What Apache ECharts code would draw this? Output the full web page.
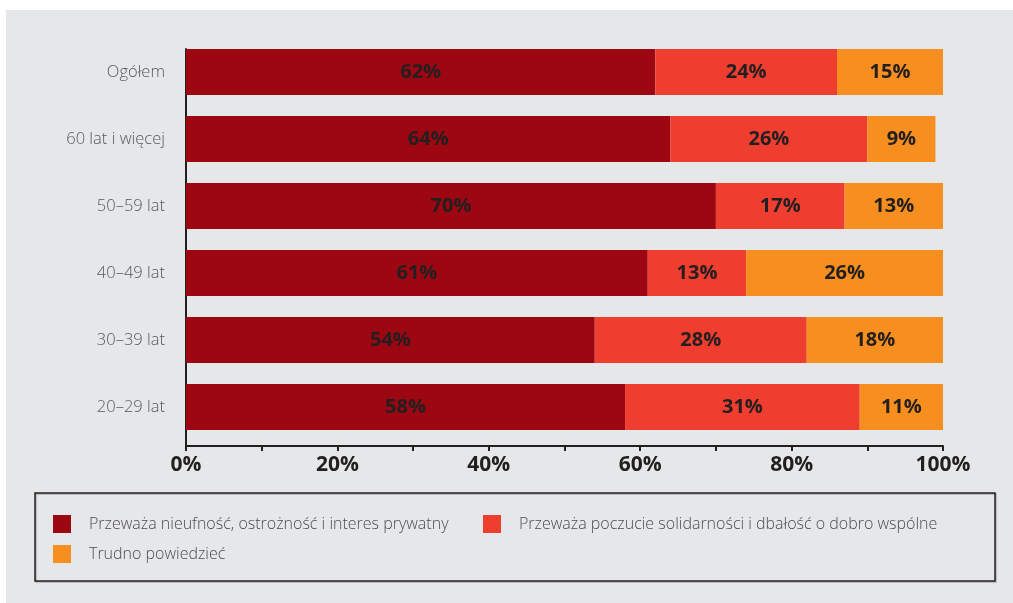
<!DOCTYPE html>
<html>
<head>
<meta charset="utf-8">
<script src="https://cdn.jsdelivr.net/npm/echarts@6/dist/echarts.min.js"></script>
<style>
  html, body { margin: 0; padding: 0; background: #ffffff; }
  #panel { position: absolute; left: 6px; top: 10px; right: 0; bottom: 0; background: #e6e7e8; }
  #chart { position: absolute; left: 0; top: 0; width: 1013px; height: 603px; }
</style>
</head>
<body>
<div id="panel"></div>
<div id="chart"></div>
<script>
// Age groups, top to bottom
const categories = ['Ogółem', '60 lat i więcej', '50–59 lat', '40–49 lat', '30–39 lat', '20–29 lat'];

// Share of answers (%) per age group
const nieufnosc   = [62, 64, 70, 61, 54, 58];
const solidarnosc = [24, 26, 17, 13, 28, 31];
const trudno      = [15,  9, 13, 26, 18, 11];

const seriesNames = [
  'Przeważa nieufność, ostrożność i interes prywatny',
  'Przeważa poczucie solidarności i dbałość o dobro wspólne',
  'Trudno powiedzieć'
];
const seriesColors = ['#9c0711', '#ef3e30', '#f68f1f'];

// Percentage axis ticks
const xMin = 0, xMax = 100, xStep = 10, labelStep = 20;

const FONT = "'Open Sans', 'Noto Sans', sans-serif";
const DARK = '#231f20';

const chart = echarts.init(document.getElementById('chart'), null, { renderer: 'canvas' });

function barSeries(name, values, color) {
  return {
    name: name,
    type: 'bar',
    stack: 'total',
    xAxisIndex: 0,
    yAxisIndex: 0,
    barWidth: 46,
    clip: true,
    data: values,
    itemStyle: { color: color },
    label: {
      show: true,
      position: 'inside',
      formatter: '{c}%',
      color: DARK,
      fontFamily: FONT,
      fontWeight: 'bold',
      fontSize: 20
    },
    emphasis: { disabled: true }
  };
}

function legendAt(left, top, name) {
  return {
    left: left,
    top: top,
    padding: 0,
    itemWidth: 18,
    itemHeight: 18,
    icon: 'rect',
    selectedMode: false,
    data: [name],
    textStyle: {
      color: '#4d4d4f',
      fontFamily: FONT,
      fontWeight: 300,
      fontSize: 16,
      padding: [0, 0, 0, 13]
    }
  };
}

chart.setOption({
  animation: false,
  grid: [
    // bars
    { left: 186, right: 70, top: 38.5, bottom: 162.5 },
    // axis frame
    { left: 186, right: 70, top: 49, bottom: 157 }
  ],
  xAxis: [
    {
      gridIndex: 0, type: 'value', min: xMin, max: xMax, show: false
    },
    {
      gridIndex: 1, type: 'value', min: xMin, max: xMax, interval: xStep,
      axisLine: { show: true, lineStyle: { color: DARK, width: 2 } },
      axisTick: { show: true, length: 5, lineStyle: { color: DARK, width: 2 } },
      splitLine: { show: false },
      axisLabel: {
        margin: 9,
        color: DARK,
        fontFamily: FONT,
        fontWeight: 'bold',
        fontSize: 21,
        formatter: v => (v % labelStep === 0 ? v + '%' : '')
      }
    }
  ],
  yAxis: [
    {
      gridIndex: 0, type: 'category', data: categories, inverse: true,
      axisLine: { show: false },
      axisTick: { show: false },
      axisLabel: {
        margin: 21,
        color: '#58595b',
        fontFamily: FONT,
        fontWeight: 300,
        fontSize: 16.5
      }
    },
    {
      gridIndex: 1, type: 'value', min: 0, max: 1,
      axisLine: { show: true, lineStyle: { color: DARK, width: 2 } },
      axisTick: { show: false },
      axisLabel: { show: false },
      splitLine: { show: false }
    }
  ],
  legend: [
    legendAt(53, 515, seriesNames[0]),
    legendAt(483, 515, seriesNames[1]),
    legendAt(53, 545, seriesNames[2])
  ],
  graphic: [
    {
      type: 'rect',
      shape: { x: 35, y: 493, width: 960, height: 88 },
      style: {
        fill: 'none', stroke: DARK, lineWidth: 1.5,
        shadowColor: 'rgba(0,0,0,0.25)', shadowOffsetX: 1, shadowOffsetY: 1
      },
      silent: true
    }
  ],
  series: [
    barSeries(seriesNames[0], nieufnosc, seriesColors[0]),
    barSeries(seriesNames[1], solidarnosc, seriesColors[1]),
    barSeries(seriesNames[2], trudno, seriesColors[2])
  ]
});
</script>
</body>
</html>
